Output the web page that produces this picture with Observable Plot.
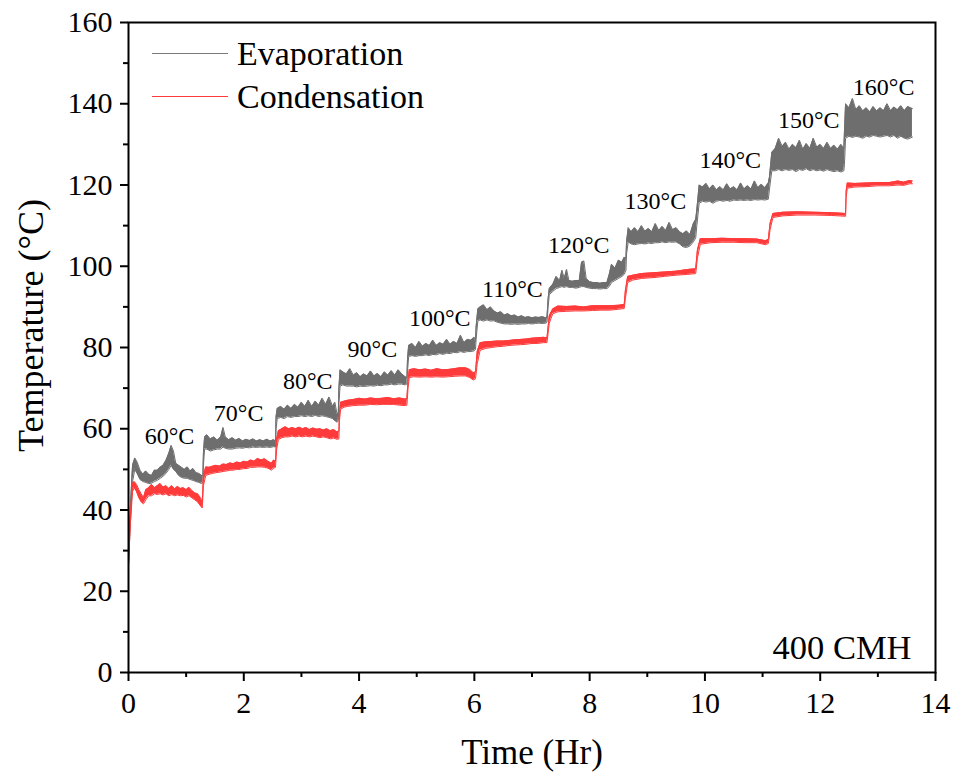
<!DOCTYPE html>
<html><head><meta charset="utf-8">
<script src="https://cdn.jsdelivr.net/npm/d3@7"></script>
<script src="https://cdn.jsdelivr.net/npm/@observablehq/plot@0.6"></script>
<style>
body{margin:0;background:#fff}
#wrap{position:relative;width:957px;height:774px}
</style></head><body><div id="wrap"></div>
<script>
// ---- data ----
const seriesNames = ["Evaporation", "Condensation"];
const seriesColors = ["#6e6e6e", "#ff3a3a"];
const legendColors = ["#7a7a7a", "#ff3a3a"];
const conditionLabel = "400 CMH";

// Evaporation: time (hr) and the lower / upper envelope of the noisy trace (°C)
const evapT = [0,0.03,0.07,0.11,0.15,0.2,0.25,0.3,0.35,0.4,0.45,0.5,0.55,0.6,0.65,0.7,0.74,0.78,0.82,0.87,0.92,0.97,1.02,1.07,1.12,1.17,1.22,1.27,1.29,
 1.30,1.32,1.36,1.42,1.48,1.54,1.6,1.64,1.68,1.74,1.8,1.86,1.92,1.98,2.04,2.1,2.16,2.22,2.28,2.34,2.4,2.46,2.52,2.55,
 2.56,2.58,2.64,2.7,2.76,2.82,2.88,2.94,3.0,3.06,3.12,3.18,3.24,3.3,3.36,3.42,3.48,3.54,3.58,3.62,3.64,
 3.65,3.67,3.72,3.78,3.84,3.9,3.96,4.02,4.08,4.14,4.2,4.26,4.32,4.38,4.44,4.5,4.56,4.62,4.68,4.74,4.8,4.83,
 4.84,4.86,4.92,4.98,5.04,5.1,5.16,5.22,5.28,5.34,5.4,5.46,5.52,5.58,5.64,5.7,5.76,5.82,5.88,5.94,6.0,6.02,
 6.03,6.06,6.1,6.16,6.22,6.28,6.34,6.4,6.46,6.52,6.58,6.64,6.7,6.76,6.82,6.88,6.94,7.0,7.06,7.12,7.18,7.24,7.26,
 7.28,7.3,7.36,7.42,7.48,7.52,7.56,7.6,7.64,7.7,7.76,7.82,7.86,7.9,7.94,8.0,8.06,8.12,8.18,8.24,8.3,8.34,8.38,8.44,8.5,8.56,8.6,8.63,
 8.64,8.67,8.72,8.78,8.84,8.9,8.96,9.02,9.08,9.14,9.2,9.26,9.32,9.38,9.44,9.5,9.56,9.62,9.68,9.74,9.8,9.84,
 9.86,9.9,9.96,10.02,10.08,10.14,10.2,10.26,10.32,10.38,10.44,10.5,10.56,10.62,10.68,10.74,10.8,10.86,10.92,10.98,11.04,11.1,
 11.12,11.16,11.22,11.28,11.34,11.4,11.46,11.52,11.58,11.64,11.7,11.76,11.82,11.88,11.94,12.0,12.06,12.12,12.18,12.24,12.3,12.36,12.41,
 12.42,12.44,12.5,12.56,12.62,12.68,12.74,12.8,12.86,12.92,12.98,13.04,13.1,13.16,13.22,13.28,13.34,13.4,13.46,13.52,13.6];
const evapLo = [26.5,36,47,50,49,47.5,47,46.8,46.5,46.6,47,47.3,47.8,48.3,49,50,51,50,49.5,48.5,48,47.8,47.8,47.5,47.3,47,46.8,46.5,47,
 51,55,55,54.5,54.8,55,55,55.5,55.2,55,55,55.2,55.3,55.2,55.4,55.3,55.5,55.4,55.5,55.4,55.5,55.4,55.6,55.5,
 60,62.5,62.8,62.5,63,62.8,63,63,63.2,63,63.2,63,63.3,63,63.2,63,62.8,62.5,62,61.6,62,
 66,70.5,70.8,70.5,70.5,70.5,70.3,70.5,70.4,70.5,70.6,70.5,70.7,70.6,70.8,70.8,71,70.8,71,71,70.8,71,
 74,77.8,78,77.8,78,78,78.2,78,78.3,78.2,78.5,78.3,78.6,78.5,78.8,78.7,79,78.8,79,79,79.2,79.5,
 82,86.5,86.8,86.5,86.8,86.5,86.6,86.2,86,85.8,85.8,85.7,85.8,85.7,85.8,85.8,85.9,85.8,85.9,86,85.9,86,86.2,
 90,93,93.8,94.5,94.8,95,94.8,95,94.8,94.8,94.6,94.8,95,95,94.8,94.6,94.5,94.5,94.4,94.5,94.5,95,96,96.5,97,97.5,98,99,
 103,106,105.5,105.3,105.5,105.6,105.5,105.7,105.6,105.8,105.8,106,105.8,106,105.9,106,105.5,104.8,104.6,105,106,107,
 110,115.5,116,115.8,116,115.5,116,116.2,116,116.2,116,116.3,116.2,116.3,116.2,116.3,116.2,116.4,116.3,116.4,116.3,116.5,
 119,123.5,123.5,123.8,123.5,123.8,123.6,123.8,123.3,123.8,123.6,124,123.5,123.8,123.5,123.7,123.4,123.8,123.5,123.3,123.5,123.2,123.5,
 125,131.5,132,131.7,132,131.8,131.5,132,131.8,132.2,132,131.8,132,132.2,131.8,132.2,131.5,132,131.5,131.3,131.8];
const evapHi = [26.5,40,51,52.8,51.8,49.8,48.8,49.6,48.8,48.5,49.8,49.8,50.5,51,52.2,54,55.9,54.5,51.5,51,50.5,50,50.6,49.6,50.2,49.2,49,48.5,48.5,
 54,58,58.5,57.5,58,57.2,58,60.3,58,57.3,57.8,57.2,57.6,57,57.4,57.1,57.5,57,57.3,57,57.4,57,57.3,57,
 63,65,65.5,64.8,65.8,65,66,65.3,66.5,65.5,67,65.5,66.8,65.8,67.5,66,67.8,65.5,66.5,63.5,64,
 70,74.5,74,73.5,74.8,73.2,73.8,72.8,73.5,73,74.2,73,73.6,72.8,74,73.2,74.3,73.2,74.5,73.5,72.8,72.6,
 77,80.5,81,80,81.5,80.3,81,80.5,81.8,80.5,81.2,80.8,82,80.8,81.5,81,83,81.2,82,81.8,82.5,81.5,
 85,89.5,90,90.5,89.3,90,89,88.5,88.8,88,88.3,87.8,88,87.5,87.8,87.4,87.6,87.3,87.5,87.4,87.6,87.3,87.5,
 92,94.5,95.5,97.5,96.5,99,97,99.2,96.5,96.3,96.5,96.5,101,101.3,97,96.2,96,96,95.8,96,96,98,100.5,99.5,101.5,101,102.2,102,
 106,109.5,108.5,109.5,108.5,110,108.6,109.3,108.5,110.5,108.8,109.8,108.8,110.8,109,109.5,108.5,108,108.7,107.8,110.5,111.5,
 114,120,119.5,120.4,119,120,118.8,119.6,118.8,120.3,119,119.6,118.8,120.5,119,119.8,119,121,119.3,120.2,119.3,120.5,
 122,128,129,131.5,129.5,130.5,128.8,130,129.2,131,128.8,130.2,129,131.5,129.3,130,129,130.5,129,129.8,128.8,130,129,
 133,140,139,141.3,138.5,139.5,138.2,139,138,139.3,138.2,139,138.3,140,138.3,139.2,138.5,139.5,138.3,139.3,138.8];

// Condensation: time (hr) and lower / upper envelope (°C)
const condT = [0,0.03,0.07,0.1,0.14,0.18,0.22,0.26,0.3,0.35,0.4,0.45,0.5,0.55,0.6,0.65,0.7,0.75,0.8,0.85,0.9,0.95,1.0,1.05,1.1,1.15,1.2,1.25,1.28,
 1.3,1.34,1.4,1.46,1.52,1.58,1.64,1.7,1.76,1.82,1.88,1.94,2.0,2.06,2.12,2.18,2.24,2.3,2.36,2.42,2.48,2.52,2.55,
 2.57,2.6,2.66,2.72,2.78,2.84,2.9,2.96,3.02,3.08,3.14,3.2,3.26,3.32,3.38,3.44,3.5,3.56,3.62,3.65,
 3.66,3.68,3.74,3.8,3.9,4.0,4.1,4.2,4.3,4.4,4.5,4.6,4.7,4.8,4.83,
 4.85,4.87,4.95,5.05,5.15,5.25,5.35,5.45,5.55,5.65,5.75,5.85,5.92,5.98,6.02,
 6.05,6.1,6.2,6.3,6.4,6.5,6.6,6.7,6.8,6.9,7.0,7.1,7.2,7.26,
 7.3,7.36,7.45,7.6,7.75,7.9,8.05,8.2,8.35,8.5,8.6,
 8.62,8.66,8.75,8.9,9.1,9.3,9.5,9.7,9.84,
 9.87,9.92,10.1,10.3,10.5,10.7,10.9,11.05,11.1,
 11.13,11.18,11.35,11.6,11.9,12.2,12.44,
 12.45,12.47,12.6,12.8,13.0,13.2,13.35,13.45,13.55,13.6];
const condLo = [26.5,36,44.5,45.5,44.5,43,42,41.5,42.5,43.5,43.5,44,43.8,44,43.7,44,43.5,43.8,43.5,43.7,43.5,43.6,43.2,43.5,43,42.5,42,41,40.5,
 46,48.5,48.8,49,49.2,49.3,49.5,49.6,49.8,49.8,50,50,50.2,50.2,50.5,50.5,50.6,50.6,50.5,50.3,49.8,50.3,50.5,
 55,57.3,57.8,58,58,58.2,58,58.2,58,58.2,58,58.2,58,57.8,58,57.8,57.5,57.7,57.4,57.5,
 62,64.8,65.3,65.5,65.7,65.8,65.8,66,65.9,66,66,66,65.8,65.7,65.8,
 70,72.6,72.8,72.7,72.8,72.7,72.8,72.7,72.8,72.9,73,73,72.6,72,72.3,
 76,79.3,79.8,80,80.2,80.3,80.5,80.6,80.7,80.8,81,81,81.2,81.2,
 86,88.3,88.8,88.9,89,89,89.1,89.2,89.2,89.4,89.6,
 92,96,96.6,97,97.2,97.5,97.8,98,98.2,
 102,105.4,105.8,105.9,105.9,105.8,105.8,105.3,105.6,
 109,112,112.4,112.6,112.6,112.5,112.3,
 117,119.2,119.5,119.6,119.8,119.8,120,119.9,120.3,120.3];
const condHi = [26.5,38,46.5,47,46.3,45,44,43,45,45.5,46.3,45.5,46,46.5,45.6,46,45.3,46,45.2,45.8,45.3,45.5,45,45.6,44.8,44.2,44,43,42,
 48.5,50.6,50.5,50.8,51,50.8,51.3,51.2,51.6,51.4,51.8,51.6,52,51.8,52.3,52,52.7,52.3,52.6,52,51.5,52.3,52,
 57.5,59.5,60,60.5,60,60.3,60,60.4,60,60.3,59.8,60.2,59.9,60,59.7,60,59.5,59.8,59.2,59.5,
 64,66.5,66.8,67,67.2,67.5,67.3,67.6,67.4,67.5,67.7,67.4,67.6,67.3,67.5,
 72,74.5,74.8,74.5,74.7,74.4,74.8,74.5,74.6,74.8,75,75,74.6,73.8,74,
 79,81.2,81.4,81.5,81.6,81.6,81.7,81.9,82,82.1,82.3,82.4,82.5,82.4,
 87.8,89.5,90.2,90.1,90.2,90,90.3,90.3,90.3,90.4,90.6,
 94,97.5,97.8,98.2,98.4,98.6,98.8,99.2,99.4,
 104,106.8,106.8,106.9,106.8,106.8,106.7,106.3,106.6,
 110.5,113,113.3,113.4,113.3,113.2,113,
 118.5,120.5,120.4,120.5,120.6,120.6,121,120.7,121.1,121];

// set-point annotations
const stepLabels = ["60°C","70°C","80°C","90°C","100°C","110°C","120°C","130°C","140°C","150°C","160°C"];
const stepLabelT = [0.71,1.91,3.11,4.23,5.40,6.66,7.81,9.14,10.44,11.80,13.10];
const stepLabelY = [58.1,63.8,71.6,79.5,87.1,94.3,105.1,115.9,126.0,135.9,144.0];

// axis ticks
const xMajor = [0,2,4,6,8,10,12,14];
const xMinor = [1,3,5,7,9,11,13];
const yMajor = [0,20,40,60,80,100,120,140,160];
const yMinor = [10,30,50,70,90,110,130,150];
const xTitle = "Time (Hr)";
const yTitle = "Temperature (°C)";

// ---- tables ----
const evap = evapT.map((t,i)=>({t, lo:evapLo[i], hi:evapHi[i]}));
const cond = condT.map((t,i)=>({t, lo:condLo[i], hi:condHi[i]}));
const labels = stepLabels.map((s,i)=>({s, t:stepLabelT[i], y:stepLabelY[i]}));

const font = "'Liberation Serif','Times New Roman',serif";
function band(data, color){
  return [
    Plot.areaY(data,{x:"t", y1:"lo", y2:"hi", fill:color, curve:"linear"}),
    Plot.line(data,{x:"t", y:"lo", stroke:color, strokeWidth:1}),
    Plot.line(data,{x:"t", y:"hi", stroke:color, strokeWidth:1})
  ];
}

const chart = Plot.plot({
  width:957, height:774,
  marginLeft:128, marginRight:22, marginTop:22, marginBottom:102,
  x:{domain:[0,14]},
  y:{domain:[0,160]},
  style:{fontFamily:font, fontSize:"30px", color:"#000", background:"#fff"},
  marks:[
    ...band(evap, seriesColors[0]),
    ...band(cond, seriesColors[1]),
    Plot.axisX({ticks:xMajor, tickSize:9, tickPadding:10, tickFormat:d=>String(d), label:null, fontSize:30, strokeWidth:2}),
    Plot.axisX({ticks:xMinor, tickSize:5, tickFormat:()=>"", label:null, strokeWidth:2}),
    Plot.axisY({ticks:yMajor, tickSize:8, tickPadding:8, tickFormat:d=>String(d), label:null, fontSize:30, strokeWidth:2}),
    Plot.axisY({ticks:yMinor, tickSize:5, tickFormat:()=>"", label:null, strokeWidth:2}),
    Plot.frame({stroke:"#000", strokeWidth:2}),
    Plot.text(labels,{x:"t", y:"y", text:"s", fontSize:24, textAnchor:"middle", lineAnchor:"middle", fill:"#000"}),
    Plot.text([xTitle],{frameAnchor:"bottom", textAnchor:"middle", lineAnchor:"middle", dy:80, fontSize:35, fill:"#000"}),
    Plot.text([yTitle],{frameAnchor:"left", textAnchor:"middle", lineAnchor:"middle", rotate:-90, dx:-97, dy:-22, fontSize:36, fill:"#000"}),
    Plot.text([conditionLabel],{frameAnchor:"bottom-right", textAnchor:"end", lineAnchor:"middle", dx:-24, dy:-25, fontSize:34.5, fill:"#000"})
  ]
});
document.getElementById("wrap").appendChild(chart);

// legend drawn inside the plot area (top-left)
const svg = d3.select(chart);
const lg = svg.append("g").attr("transform","translate(152,0)");
seriesNames.forEach((name,i)=>{
  const yLine = 53.5 + 43*i;
  lg.append("line").attr("x1",0).attr("x2",76).attr("y1",yLine).attr("y2",yLine)
    .attr("stroke",legendColors[i]).attr("stroke-width",1);
  lg.append("text").attr("x",85).attr("y",yLine+11.5).attr("font-size",34)
    .attr("text-anchor","start")
    .attr("font-family",font).attr("fill","#000").text(name);
});
</script>
</body></html>
